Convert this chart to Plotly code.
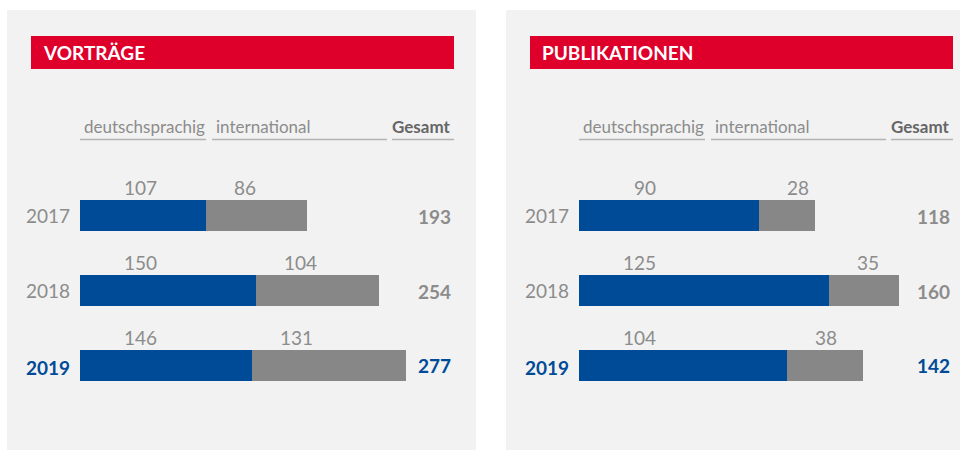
import plotly.graph_objects as go

W, H = 960, 450

years = ["2017", "2018", "2019"]
vortraege_de = [107, 150, 146]
vortraege_int = [86, 104, 131]
vortraege_total = [193, 254, 277]
publ_de = [90, 125, 104]
publ_int = [28, 35, 38]
publ_total = [118, 160, 142]

panel_titles = ["VORTRÄGE", "PUBLIKATIONEN"]
col_labels = ["deutschsprachig", "international", "Gesamt"]

BLUE = "#004b98"
GREY_BAR = "#878787"
TEXT_GREY = "#8c8c8c"
PANEL_BG = "#f2f2f2"
RED = "#de002b"
FONT = "Lato"

def px_x(p):
    return p / W

def px_y(p):
    return 1 - p / H

fig = go.Figure()

panels = [
    dict(xa="x", de=vortraege_de, intl=vortraege_int, tot=vortraege_total, off=0),
    dict(xa="x2", de=publ_de, intl=publ_int, tot=publ_total, off=499),
]

for p in panels:
    fig.add_trace(go.Bar(y=years, x=p["de"], orientation="h", xaxis=p["xa"], yaxis="y",
                         marker=dict(color=BLUE, line=dict(width=0)), width=0.4133,
                         hoverinfo="skip", showlegend=False))
    fig.add_trace(go.Bar(y=years, x=p["intl"], base=p["de"], orientation="h", xaxis=p["xa"], yaxis="y",
                         marker=dict(color=GREY_BAR, line=dict(width=0)), width=0.4133,
                         hoverinfo="skip", showlegend=False))

shapes = []
annotations = []
for i, p in enumerate(panels):
    o = p["off"]
    # panel background
    shapes.append(dict(type="rect", xref="paper", yref="paper", layer="below",
                       x0=px_x(7 + o), x1=px_x(min(476 + o, 960)), y0=px_y(450), y1=px_y(10),
                       fillcolor=PANEL_BG, line=dict(width=0)))
    # red header
    shapes.append(dict(type="rect", xref="paper", yref="paper", layer="below",
                       x0=px_x(31 + o), x1=px_x(454 + o), y0=px_y(69), y1=px_y(36),
                       fillcolor=RED, line=dict(width=0)))
    annotations.append(dict(text=panel_titles[i], xref="paper", yref="paper",
                            x=px_x(41 + o), y=px_y(53), xanchor="left", yanchor="middle",
                            showarrow=False,
                            font=dict(family=FONT, size=19, color="white", weight=700)))
    # column headers with underlines
    segs = [(80, 206), (212, 387), (392, 454)]
    for j, (a, b) in enumerate(segs):
        shapes.append(dict(type="line", xref="paper", yref="paper", layer="below",
                           x0=px_x(a + o), x1=px_x(b + o), y0=px_y(139.5), y1=px_y(139.5),
                           line=dict(color="#b4b4b4", width=1.5)))
        if j < 2:
            annotations.append(dict(text=col_labels[j], xref="paper", yref="paper",
                                    x=px_x(a + 2 + o), y=px_y(127), xanchor="left", yanchor="middle",
                                    showarrow=False,
                                    font=dict(family=FONT, size=17, color=TEXT_GREY)))
        else:
            annotations.append(dict(text="<b>" + col_labels[j] + "</b>", xref="paper", yref="paper",
                                    x=px_x(b - 1 + o), y=px_y(127), xanchor="right", yanchor="middle",
                                    showarrow=False,
                                    font=dict(family=FONT, size=17, color="#666666")))
    # years, values, totals (category axis: annotations use the category index)
    for k, yr in enumerate(years):
        last = (k == len(years) - 1)
        ycol = BLUE if last else TEXT_GREY
        ytxt = "<b>" + yr + "</b>" if last else yr
        annotations.append(dict(text=ytxt, xref="paper", yref="y", x=px_x(72 + o), y=k,
                                xanchor="right", yanchor="middle", yshift=-2 if last else 0,
                                showarrow=False, font=dict(family=FONT, size=19, color=ycol)))
        annotations.append(dict(text=str(p["de"][k]), xref=p["xa"], yref="y", x=0, y=k,
                                xanchor="right", yanchor="middle", xshift=79, yshift=28,
                                showarrow=False, font=dict(family=FONT, size=19, color=TEXT_GREY)))
        annotations.append(dict(text=str(p["intl"][k]), xref=p["xa"], yref="y", x=p["de"][k], y=k,
                                xanchor="left", yanchor="middle", xshift=26, yshift=28,
                                showarrow=False, font=dict(family=FONT, size=19, color=TEXT_GREY)))
        annotations.append(dict(text="<b>" + str(p["tot"][k]) + "</b>", xref="paper", yref="y",
                                x=px_x(453 + o), y=k, xanchor="right", yanchor="middle",
                                yshift=0 if last else -1,
                                showarrow=False, font=dict(family=FONT, size=19, color=ycol)))

fig.update_layout(
    width=W, height=H,
    margin=dict(l=0, r=0, t=0, b=0),
    paper_bgcolor="white", plot_bgcolor="rgba(0,0,0,0)",
    barmode="overlay", bargap=0,
    xaxis=dict(domain=[80 / W, 470 / W], range=[0, 390 / 1.176], visible=False, fixedrange=True),
    xaxis2=dict(domain=[579 / W, 1.0], range=[0, 381 / 2.0], visible=False, anchor="y", fixedrange=True),
    yaxis=dict(domain=[0, 1], type="category", categoryorder="array", categoryarray=years,
               range=[3.1267, -2.8733], visible=False, fixedrange=True),
    shapes=shapes, annotations=annotations,
    font=dict(family=FONT),
)

fig.write_html("out.html", config={"displayModeBar": False},
               post_script="document.body.style.margin='0';")
